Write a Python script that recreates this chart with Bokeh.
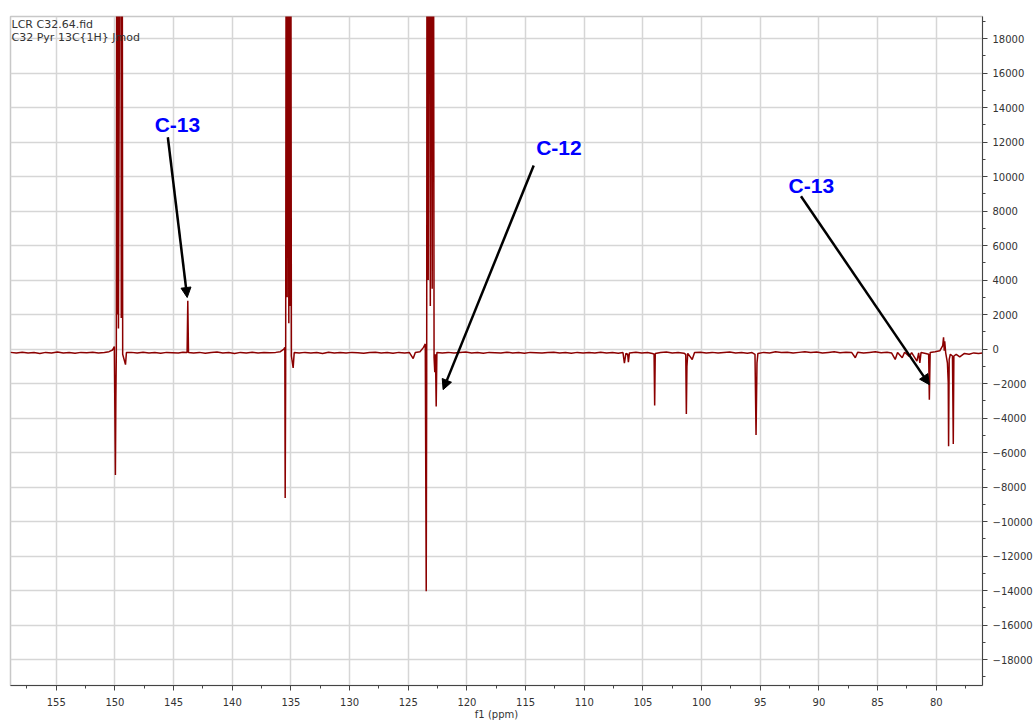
from bokeh.plotting import figure
from bokeh.models import (Range1d, SingleIntervalTicker, Arrow, NormalHead, Label,
                          ColumnDataSource, BasicTickFormatter)
from bokeh.embed import file_html
from bokeh.resources import INLINE

# ---------------- data ----------------
ppm = [158.9, 158.4, 157.9, 157.4, 156.9, 156.4, 155.9, 155.4, 154.9, 154.4, 153.9, 153.4, 152.9,
       152.4, 151.9, 151.4, 150.9, 150.5, 150.2, 150.05, 149.96, 149.92, 149.88, 149.82, 149.78,
       149.74, 149.70, 149.50, 149.46, 149.40, 149.34, 149.10, 149.02, 148.6, 148.1, 147.6, 147.1,
       146.6, 146.1, 145.6, 145.1, 144.6, 144.2, 143.85, 143.79, 143.73, 143.3, 142.8, 142.3,
       141.8, 141.3, 140.8, 140.3, 139.8, 139.3, 138.8, 138.3, 137.8, 137.3, 136.8, 136.3, 135.9,
       135.6, 135.52, 135.49, 135.45, 135.38, 135.32, 135.26, 135.18, 135.12, 135.08, 135.04,
       134.96, 134.81, 134.72, 134.3, 133.8, 133.3, 132.8, 132.3, 131.8, 131.3, 130.8, 130.3,
       129.8, 129.3, 128.8, 128.3, 127.8, 127.3, 126.8, 126.3, 125.8, 125.3, 124.9, 124.58, 124.4,
       124.0, 123.7, 123.55, 123.47, 123.43, 123.39, 123.30, 123.22, 123.12, 123.05, 122.96,
       122.88, 122.80, 122.74, 122.68, 122.62, 122.56, 122.1, 121.6, 121.1, 120.6, 120.1, 119.6,
       119.1, 118.6, 118.1, 117.6, 117.1, 116.6, 116.1, 115.6, 115.1, 114.6, 114.1, 113.6, 113.1,
       112.6, 112.1, 111.6, 111.1, 110.6, 110.1, 109.6, 109.1, 108.6, 108.1, 107.6, 107.1, 106.7,
       106.58, 106.45, 106.30, 106.24, 106.15, 105.6, 105.1, 104.6, 104.2, 104.05, 104.0, 103.95,
       103.5, 103.0, 102.5, 102.0, 101.5, 101.35, 101.3, 101.25, 101.18, 100.8, 100.6, 100.1,
       99.6, 99.1, 98.6, 98.1, 97.6, 97.1, 96.6, 96.1, 95.7, 95.45, 95.36, 95.28, 95.2, 94.7,
       94.2, 93.7, 93.2, 92.7, 92.2, 91.7, 91.2, 90.7, 90.2, 89.7, 89.2, 88.7, 88.2, 87.7, 87.2,
       86.9, 86.7, 86.2, 85.7, 85.2, 84.7, 84.2, 83.8, 83.5, 83.3, 82.9, 82.7, 82.3, 82.1, 81.65,
       81.5, 81.4, 81.3, 80.9, 80.65, 80.59, 80.52, 80.1, 79.7, 79.45, 79.38, 79.32, 79.28, 79.2,
       79.05, 78.98, 78.95, 78.9, 78.8, 78.62, 78.55, 78.5, 78.3, 78.0, 77.6, 77.2, 76.8, 76.4,
       76.06]
intensity = [-190, -230, -180, -220, -200, -250, -190, -220, -170, -230, -200, -240, -190,
             -210, -180, -230, -200, -150, -50, 150, -7300, -2800, -200, 45000, 2000,
             45000, 1200, 45000, 1800, 45000, -300, -900, -200, -190, -230, -180, -220,
             -200, -240, -190, -210, -230, -180, -200, 2800, -200, -220, -190, -240,
             -200, -170, -230, -200, -250, -190, -220, -180, -230, -200, -210, -190, -150,
             0, 100, -8630, -1500, 45000, 3000, 45000, 1500, 45000, 2500, 45000,
             -400, -1090, -200, -230, -190, -220, -200, -250, -180, -220, -200, -230,
             -190, -210, -240, -200, -180, -220, -200, -240, -190, -220, -200, -550, -200,
             -150, 100, 300, -14040, -2000, 45000, 4000, 45000, 2500, 45000, 3500,
             45000, -500, -1345, -300, -3330, -200, -220, -190, -230, -200, -170, -220,
             -200, -240, -190, -210, -230, -180, -220, -200, -240, -190, -210, -230, -200,
             -180, -220, -200, -240, -190, -220, -200, -230, -180, -220, -200, -240, -200,
             -820, -250, -300, -760, -220, -180, -230, -200, -250, -300, -3275, -250,
             -200, -170, -230, -200, -240, -300, -3760, -1000, -250, -600, -200, -180,
             -220, -190, -230, -200, -170, -220, -200, -240, -200, -300, -4975, -800, -250, -190,
             -220, -160, -200, -180, -230, -190, -150, -200, -170, -220, -190, -160, -210, -180, -200,
             -500, -180, -220, -190, -160, -210, -180, -230, -600, -200, -500, -180, -420, -200, -700,
             -220, -800, -200, -250, -300, -2930, -200, -150, -100, 200, 680, -100, 450, -200,
             -800, -1920, -5630, -600, -300, -400, -5500, -400, -300, -450, -250, -300, -220, -250,
             -230]

header_lines = ["LCR C32.64.fid", "C32 Pyr 13C{1H} Jmod"]
ann_text = ["C-13", "C-12", "C-13"]
ann_text_x = [144.67, 112.16, 90.65]
ann_text_y = [13000, 11680, 9480]
arrow_x0 = [145.49, 114.31, 91.53]
arrow_y0 = [12280, 10640, 8860]
arrow_x1 = [143.84, 122.03, 80.59]
arrow_y1 = [2990, -2350, -2060]

# ---------------- figure ----------------
p = figure(width=1035, height=722,
           x_range=Range1d(158.9, 76.06), y_range=Range1d(-19500, 19280),
           output_backend="svg", toolbar_location=None,
           y_axis_location="right",
           min_border_left=10, min_border_top=16, min_border_right=51, min_border_bottom=36)
p.background_fill_color = "white"
p.border_fill_color = "white"
p.outline_line_color = "#c8c8c8"
p.outline_line_width = 1.5

xt = SingleIntervalTicker(interval=5, num_minor_ticks=2)
yt = SingleIntervalTicker(interval=2000, num_minor_ticks=2)
p.xaxis.ticker = xt
p.yaxis.ticker = yt
p.xgrid.ticker = xt
p.ygrid.ticker = yt
p.yaxis.formatter = BasicTickFormatter(use_scientific=False)

for g in (p.xgrid, p.ygrid):
    g.grid_line_color = "#d6d6d6"
    g.grid_line_width = 1.5

for ax in (p.xaxis, p.yaxis):
    ax.axis_line_color = "#444444"
    ax.major_tick_line_color = "#444444"
    ax.minor_tick_line_color = "#444444"
    ax.major_tick_out = 5
    ax.major_tick_in = 0
    ax.minor_tick_out = 3
    ax.minor_tick_in = 0
    ax.major_label_text_font = "DejaVu Sans"
    ax.major_label_text_font_size = "10px"
    ax.major_label_text_color = "#333333"
p.yaxis.major_label_standoff = 5
p.xaxis.major_label_standoff = 7

p.xaxis.axis_label = "f1 (ppm)"
p.xaxis.axis_label_text_font = "DejaVu Sans"
p.xaxis.axis_label_text_font_size = "10px"
p.xaxis.axis_label_text_font_style = "normal"
p.xaxis.axis_label_text_color = "#333333"
p.xaxis.axis_label_standoff = 0

src = ColumnDataSource(dict(ppm=ppm, intensity=intensity))
p.line("ppm", "intensity", source=src, line_color="#8b0000", line_width=1.5)

# header text
p.add_layout(Label(x=158.81, y=18810, text=header_lines[0], text_align="left",
                   text_baseline="middle", text_font="DejaVu Sans", text_font_size="11px",
                   text_color="#333333"))
p.add_layout(Label(x=158.81, y=18060, text=header_lines[1], text_align="left",
                   text_baseline="middle", text_font="DejaVu Sans", text_font_size="11px",
                   text_color="#333333"))

for i in range(len(ann_text)):
    p.add_layout(Arrow(x_start=arrow_x0[i], y_start=arrow_y0[i], x_end=arrow_x1[i], y_end=arrow_y1[i],
                       line_color="black", line_width=2.5,
                       end=NormalHead(size=10, fill_color="black", line_color="black", line_width=1)))
    p.add_layout(Label(x=ann_text_x[i], y=ann_text_y[i], text=ann_text[i], text_align="center",
                       text_baseline="middle", text_font="Liberation Sans", text_font_style="bold",
                       text_font_size="21px", text_color="#0000ff"))

open("out.html", "w").write(file_html(p, INLINE))
